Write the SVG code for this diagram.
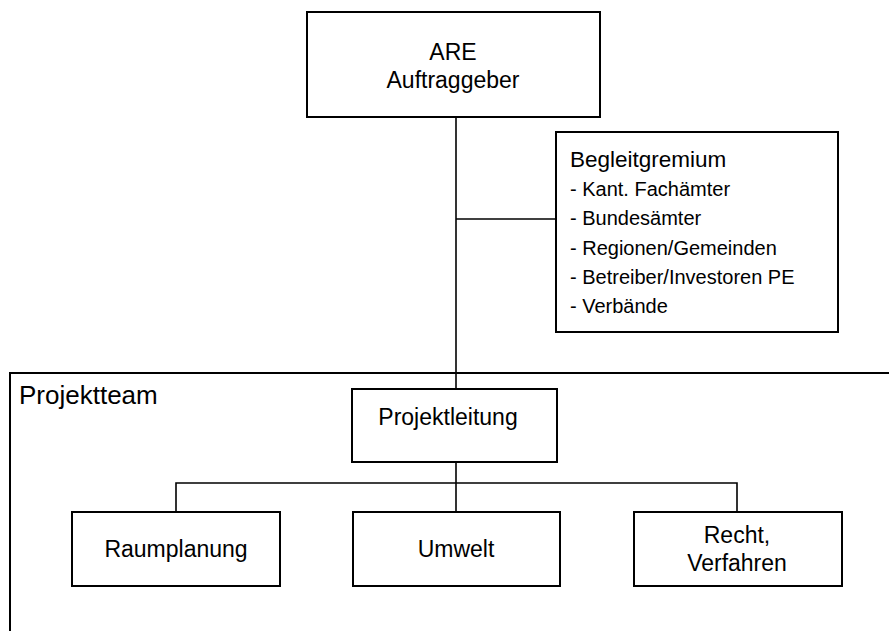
<svg xmlns="http://www.w3.org/2000/svg" width="889" height="631" viewBox="0 0 889 631">
<style>
text{font-family:"Liberation Sans",Arial,sans-serif;fill:#000}
.box{fill:#fff;stroke:#000;stroke-width:2}
.c{fill:none;stroke:#000;stroke-width:1.6}
.t{font-size:23px;text-anchor:middle}
.i{font-size:20px}
</style>
<rect width="889" height="631" fill="#fff"/>
<g id="projektteam">
<path class="c" d="M889 373 H10 V631" style="stroke-width:2"/>
<text x="19" y="404" style="font-size:26px">Projektteam</text>
</g>
<g id="connectors">
<line class="c" x1="456" y1="117" x2="456" y2="389"/>
<line class="c" x1="456" y1="219" x2="556" y2="219"/>
<line class="c" x1="456" y1="462" x2="456" y2="512"/>
<polyline class="c" points="176,512 176,483 737,483 737,512"/>
</g>
<g id="are">
<rect class="box" x="307" y="12" width="293" height="105"/>
<text class="t" x="453" y="60">ARE</text>
<text class="t" x="453" y="88">Auftraggeber</text>
</g>
<g id="begleitgremium">
<rect class="box" x="556" y="132" width="282" height="200"/>
<text x="570" y="167" style="font-size:22.5px">Begleitgremium</text>
<text class="i" x="570" y="196">- Kant. Fachämter</text>
<text class="i" x="570" y="225">- Bundesämter</text>
<text class="i" x="570" y="255">- Regionen/Gemeinden</text>
<text class="i" x="570" y="284">- Betreiber/Investoren PE</text>
<text class="i" x="570" y="313">- Verbände</text>
</g>
<g id="projektleitung">
<rect class="box" x="352" y="389" width="205" height="73"/>
<text class="t" x="448" y="425">Projektleitung</text>
</g>
<g id="raumplanung">
<rect class="box" x="72" y="512" width="208" height="74"/>
<text class="t" x="176" y="557">Raumplanung</text>
</g>
<g id="umwelt">
<rect class="box" x="353" y="512" width="207" height="74"/>
<text class="t" x="456" y="557">Umwelt</text>
</g>
<g id="recht">
<rect class="box" x="634" y="512" width="208" height="74"/>
<text class="t" x="737" y="543">Recht,</text>
<text class="t" x="737" y="571">Verfahren</text>
</g>
</svg>
